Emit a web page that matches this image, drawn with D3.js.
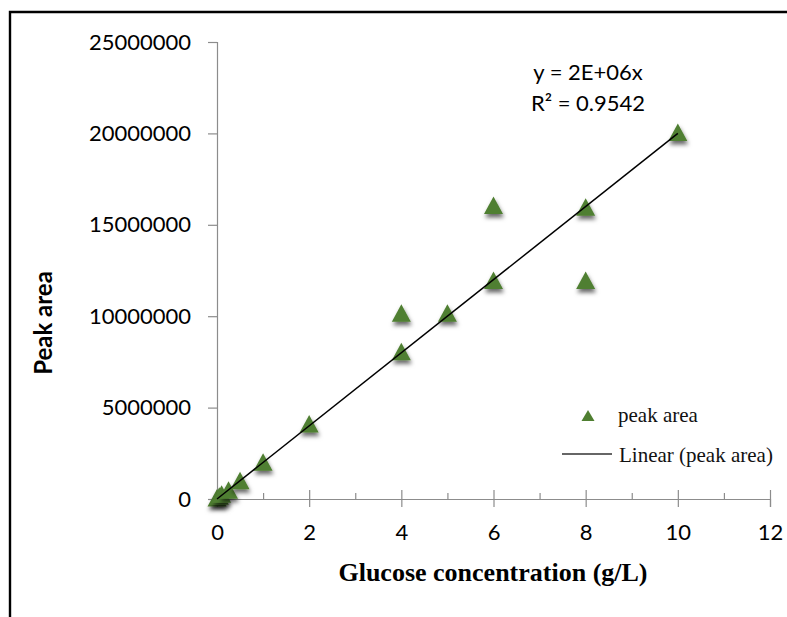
<!DOCTYPE html>
<html>
<head>
<meta charset="utf-8">
<script src="https://cdn.jsdelivr.net/npm/d3@7"></script>
<style>
  html, body { margin: 0; padding: 0; background: #fff; }
  svg { display: block; }
</style>
</head>
<body>
<svg id="chart" width="787" height="617"></svg>
<script>
// ---- data ----
const concentration = [0, 0.05, 0.1, 0.25, 0.5, 1, 2, 4, 4, 5, 6, 6, 8, 8, 10];
const peakArea = [0, 100000, 200000, 420000, 950000, 1950000, 4050000, 8000000, 10100000, 10100000, 11900000, 16000000, 11900000, 15900000, 20000000];
const xTicks = [0, 2, 4, 6, 8, 10, 12];
const xMinorTicks = [1, 3, 5, 7, 9, 11];
const yTicks = [0, 5000000, 10000000, 15000000, 20000000, 25000000];
const slope = 2000000;
const fitX = [0, 10];
const equationLines = ["y = 2E+06x", "R\u00B2 = 0.9542"];
const legendLabels = ["peak area", "Linear (peak area)"];
const xTitle = "Glucose concentration (g/L)";
const yTitle = "Peak area";

// ---- layout ----
const svg = d3.select("#chart");
const x = d3.scaleLinear().domain([0, 12]).range([217, 770]);
const y = d3.scaleLinear().domain([0, 25000000]).range([499, 42]);
const green = "#4f7f31";
const axisGray = "#8c8c8c";
const sans = "Lato, 'Open Sans', sans-serif";
const serif = "'Liberation Serif', 'Times New Roman', serif";

// frame (open on right/bottom, as in the reference)
svg.append("path")
  .attr("d", "M10,617 L10,12 L787,12")
  .attr("fill", "none").attr("stroke", "#000").attr("stroke-width", 2.4);

// shadow filter
const defs = svg.append("defs");
const f = defs.append("filter").attr("id", "shadow")
  .attr("x", "-50%").attr("y", "-50%").attr("width", "200%").attr("height", "200%");
f.append("feDropShadow").attr("dx", 1).attr("dy", 3.5).attr("stdDeviation", 2)
  .attr("flood-color", "#000").attr("flood-opacity", 0.6);

// y axis
const gy = svg.append("g").attr("transform", `translate(${x(0)},0)`)
  .call(d3.axisLeft(y).tickValues(yTicks).tickSize(9).tickPadding(17).tickFormat(d3.format("d")));
gy.select(".domain").attr("stroke", axisGray).attr("stroke-width", 1.2);
gy.selectAll(".tick line").attr("stroke", axisGray).attr("stroke-width", 1.2);
gy.selectAll(".tick text").attr("font-family", sans).attr("font-size", 22).attr("fill", "#000");

// x axis major ticks (cross the axis)
const gx = svg.append("g").attr("transform", `translate(0,${y(0)})`)
  .call(d3.axisBottom(x).tickValues(xTicks).tickSizeOuter(0).tickSize(8).tickPadding(17));
gx.select(".domain").attr("stroke", axisGray).attr("stroke-width", 1.2);
gx.selectAll(".tick line").attr("y1", -9).attr("y2", 8).attr("stroke", axisGray).attr("stroke-width", 1.2);
gx.selectAll(".tick text").attr("font-family", sans).attr("font-size", 22).attr("fill", "#000");

// x axis minor ticks (inside)
const gxm = svg.append("g").attr("transform", `translate(0,${y(0)})`)
  .call(d3.axisTop(x).tickValues(xMinorTicks).tickSize(6).tickFormat(""));
gxm.select(".domain").remove();
gxm.selectAll(".tick line").attr("stroke", axisGray).attr("stroke-width", 1.2);

// markers
const tri = "M0,-10 L9.5,7.5 L-9.5,7.5 Z";
const pts = concentration.map((c, i) => ({ c, a: peakArea[i] }));
svg.append("g").selectAll("path").data(pts).join("path")
  .attr("d", tri)
  .attr("transform", d => `translate(${x(d.c)},${y(d.a)})`)
  .attr("fill", green)
  .attr("filter", "url(#shadow)");

// trendline
svg.append("line")
  .attr("x1", x(fitX[0])).attr("y1", y(slope * fitX[0]))
  .attr("x2", x(fitX[1])).attr("y2", y(slope * fitX[1]))
  .attr("stroke", "#000").attr("stroke-width", 1.5);

// equation
svg.append("g").selectAll("text").data(equationLines).join("text")
  .attr("x", 588).attr("y", (d, i) => 80 + i * 31)
  .attr("text-anchor", "middle")
  .attr("font-family", sans).attr("font-size", 22).attr("fill", "#000")
  .text(d => d);

// legend
svg.append("path").attr("d", "M0,-6 L6.5,5 L-6.5,5 Z")
  .attr("transform", "translate(588,416)").attr("fill", green);
svg.append("text").attr("x", 618).attr("y", 422)
  .attr("font-family", serif).attr("font-size", 21).attr("fill", "#111")
  .text(legendLabels[0]);
svg.append("line").attr("x1", 562).attr("x2", 612).attr("y1", 454).attr("y2", 454)
  .attr("stroke", "#333").attr("stroke-width", 1.5);
svg.append("text").attr("x", 619).attr("y", 462)
  .attr("font-family", serif).attr("font-size", 21).attr("fill", "#111")
  .text(legendLabels[1]);

// axis titles
svg.append("text").attr("x", 493).attr("y", 581)
  .attr("text-anchor", "middle")
  .attr("font-family", serif).attr("font-weight", "bold").attr("font-size", 26)
  .text(xTitle);
svg.append("text")
  .attr("transform", "translate(52,323) rotate(-90)")
  .attr("text-anchor", "middle")
  .attr("font-family", sans).attr("font-weight", "bold").attr("font-size", 24)
  .text(yTitle);
</script>
</body>
</html>
